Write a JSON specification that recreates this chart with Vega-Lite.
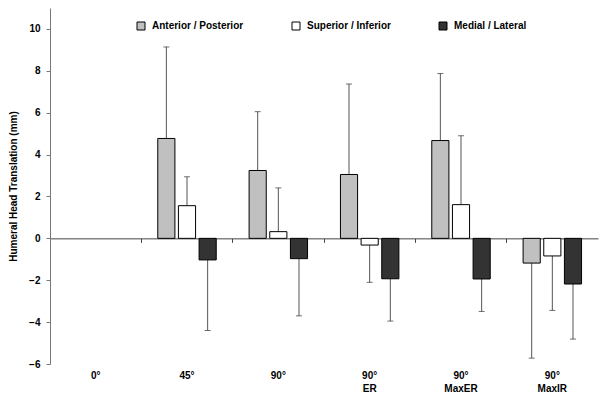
{
  "$schema": "https://vega.github.io/schema/vega-lite/v6.json",
  "width": 548,
  "height": 356,
  "autosize": {"type": "none"},
  "padding": {"left": 50, "top": 8, "right": 2, "bottom": 42},
  "background": "white",
  "config": {
    "view": {"stroke": null},
    "font": "Liberation Sans",
    "axis": {"labelFont": "Liberation Sans", "labelFontWeight": "bold", "labelFontSize": 10, "labelColor": "#000", "titleFont": "Liberation Sans", "titleFontWeight": "bold", "titleFontSize": 10, "titleColor": "#000", "grid": false}
  },
  "data": {"values": [
    {"cond": "45°", "series": "Anterior / Posterior", "value": 4.77, "err": 9.14},
    {"cond": "45°", "series": "Superior / Inferior", "value": 1.56, "err": 2.94},
    {"cond": "45°", "series": "Medial / Lateral", "value": -1.03, "err": -4.4},
    {"cond": "90°", "series": "Anterior / Posterior", "value": 3.24, "err": 6.05},
    {"cond": "90°", "series": "Superior / Inferior", "value": 0.32, "err": 2.41},
    {"cond": "90°", "series": "Medial / Lateral", "value": -0.97, "err": -3.7},
    {"cond": "90° ER", "series": "Anterior / Posterior", "value": 3.05, "err": 7.37},
    {"cond": "90° ER", "series": "Superior / Inferior", "value": -0.32, "err": -2.1},
    {"cond": "90° ER", "series": "Medial / Lateral", "value": -1.93, "err": -3.95},
    {"cond": "90° MaxER", "series": "Anterior / Posterior", "value": 4.67, "err": 7.87},
    {"cond": "90° MaxER", "series": "Superior / Inferior", "value": 1.61, "err": 4.9},
    {"cond": "90° MaxER", "series": "Medial / Lateral", "value": -1.94, "err": -3.49},
    {"cond": "90° MaxIR", "series": "Anterior / Posterior", "value": -1.18, "err": -5.72},
    {"cond": "90° MaxIR", "series": "Superior / Inferior", "value": -0.84, "err": -3.44},
    {"cond": "90° MaxIR", "series": "Medial / Lateral", "value": -2.18, "err": -4.81}
  ]},
  "encoding": {
    "x": {"field": "cond", "type": "nominal",
      "scale": {"domain": ["0°", "45°", "90°", "90° ER", "90° MaxER", "90° MaxIR"], "paddingInner": 0.36, "paddingOuter": 0.18},
      "axis": null,
      "title": null},
    "xOffset": {"field": "series", "type": "nominal",
      "scale": {"domain": ["Anterior / Posterior", "Superior / Inferior", "Medial / Lateral"], "paddingInner": 0.17, "paddingOuter": 0}}
  },
  "layer": [
    {
      "mark": {"type": "rule", "color": "#555", "strokeWidth": 1},
      "encoding": {
        "y": {"field": "value", "type": "quantitative"},
        "y2": {"field": "err"}
      }
    },
    {
      "mark": {"type": "tick", "color": "#333", "size": 6, "thickness": 1},
      "encoding": {
        "y": {"field": "err", "type": "quantitative"}
      }
    },
    {
      "mark": {"type": "bar", "stroke": "#000", "strokeWidth": 1},
      "encoding": {
        "x": {"field": "cond", "type": "nominal", "title": null,
          "axis": {"orient": "bottom", "domain": false, "ticks": false, "labelAngle": 0, "labelPadding": 11, "labelLineHeight": 13, "labelBaseline": "middle", "labelExpr": "split(datum.label, ' ')"}},
        "y": {"field": "value", "type": "quantitative",
          "scale": {"domain": [-6, 11], "nice": false, "zero": false},
          "axis": {"values": [-6, -4, -2, 0, 2, 4, 6, 8, 10], "title": "Humeral Head Translation (mm)", "titlePadding": 10, "domainColor": "#777", "tickColor": "#777", "tickSize": 4, "labelPadding": 6}},
        "y2": {"datum": 0},
        "fill": {"field": "series", "type": "nominal",
          "scale": {"domain": ["Anterior / Posterior", "Superior / Inferior", "Medial / Lateral"], "range": ["#c0c0c0", "#ffffff", "#333333"]},
          "legend": {"title": null, "orient": "none", "legendX": 86, "legendY": 13, "direction": "horizontal", "columns": 3, "columnPadding": 46, "symbolType": "square", "symbolSize": 64, "symbolStrokeColor": "#000", "symbolStrokeWidth": 1, "labelFont": "Liberation Sans", "labelFontWeight": "bold", "labelFontSize": 10, "labelColor": "#000", "labelOffset": 6}}
      }
    },
    {
      "mark": {"type": "tick", "opacity": 0},
      "encoding": {
        "x": {"field": "cond", "type": "nominal", "title": null,
          "axis": {"orient": "bottom", "offset": -125.65, "labels": false, "domainColor": "#444", "tickColor": "#444", "tickSize": 4, "bandPosition": -0.28125}},
        "y": {"datum": 0, "type": "quantitative"}
      }
    }
  ],
  "resolve": {"axis": {"x": "independent"}}
}
